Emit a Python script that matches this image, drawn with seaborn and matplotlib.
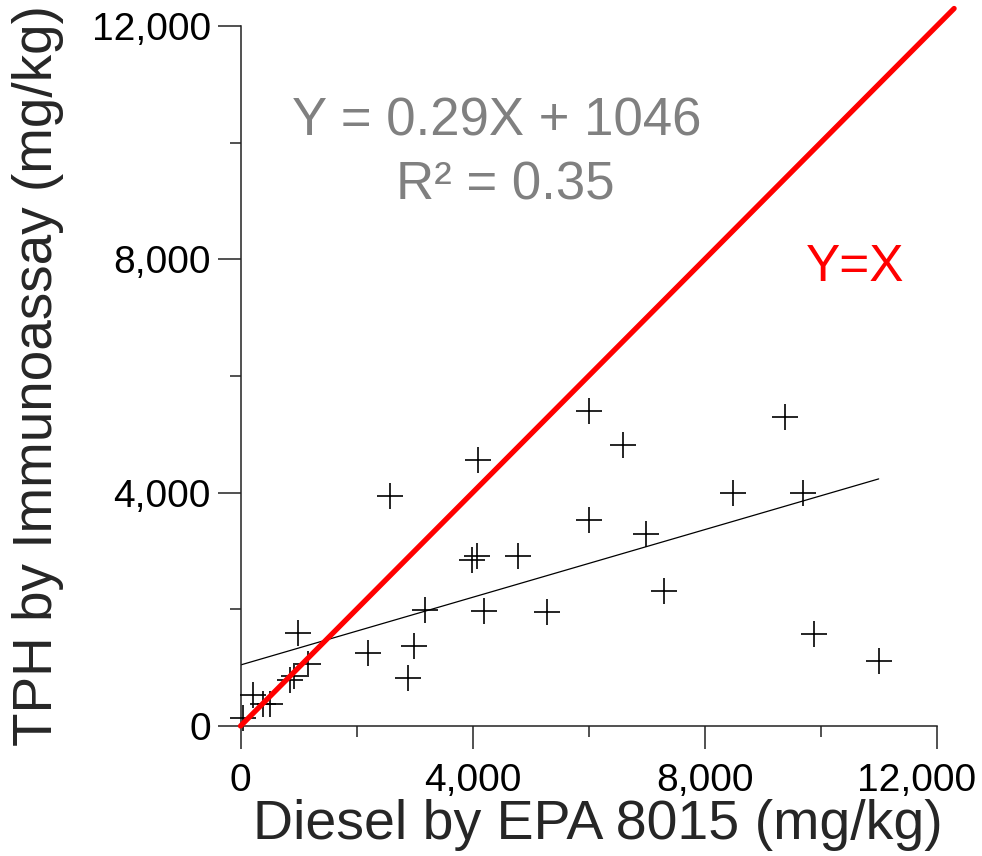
import matplotlib
matplotlib.use("Agg")
import matplotlib.pyplot as plt
import matplotlib.transforms as mtransforms
import seaborn as sns
import pandas as pd
from matplotlib.ticker import MultipleLocator, FuncFormatter

# ---- data ----
diesel_epa = [6000, 4100, 2580, 6000, 4080, 3990, 4780, 3180, 4190, 5280,
              990, 2190, 2990, 2890, 1170, 920, 850, 220, 390, 500,
              40, 6590, 9390, 8490, 9690, 6990, 7300, 9890, 11000]
tph_immuno = [5400, 4560, 3950, 3530, 2920, 2850, 2920, 1990, 1970, 1960,
              1590, 1260, 1380, 830, 1070, 850, 790, 540, 380, 380,
              130, 4820, 5300, 4000, 4000, 3300, 2320, 1580, 1110]
fit_slope = 0.29
fit_intercept = 1046
fit_x = [0, 11000]
identity_x = [0, 12300]
tick_values = [0, 4000, 8000, 12000]

df = pd.DataFrame({"x": diesel_epa, "y": tph_immuno})
fit_df = pd.DataFrame({"x": fit_x, "y": [fit_slope * v + fit_intercept for v in fit_x]})
id_df = pd.DataFrame({"x": identity_x, "y": identity_x})

sns.set_style("ticks")
plt.rcParams["font.family"] = ["Liberation Sans", "DejaVu Sans"]

fig = plt.figure(figsize=(9.82, 8.56), dpi=100)
ax = fig.add_axes([240.5 / 982, 1 - 726 / 856, (936.7 - 240.5) / 982, (726 - 26) / 856])

sns.scatterplot(data=df, x="x", y="y", marker="+", s=340, color="black",
                linewidth=1.2, ax=ax, clip_on=False, zorder=3)
sns.lineplot(data=fit_df, x="x", y="y", color="black", linewidth=0.9, ax=ax, zorder=2)
sns.lineplot(data=id_df, x="x", y="y", color="#ff0000", linewidth=3.8, ax=ax,
             clip_on=False, zorder=4)

ax.set_xlim(0, 12000)
ax.set_ylim(0, 12000)
ax.set_xticks(tick_values)
ax.set_yticks(tick_values)
ax.xaxis.set_minor_locator(MultipleLocator(2000))
ax.yaxis.set_minor_locator(MultipleLocator(2000))
fmt = FuncFormatter(lambda v, p: f"{int(v):,}")
ax.xaxis.set_major_formatter(fmt)
ax.yaxis.set_major_formatter(fmt)

spine_col = "#222222"
for s in ["left", "bottom"]:
    ax.spines[s].set_color(spine_col)
    ax.spines[s].set_linewidth(1.1)
sns.despine(ax=ax)
ax.tick_params(which="major", direction="out", length=16.5, width=1.1, color=spine_col,
               labelsize=28, labelcolor="black")
ax.tick_params(axis="x", which="major", pad=10)
ax.tick_params(axis="y", which="major", pad=5)
ax.tick_params(which="minor", direction="out", length=8, width=1.1, color=spine_col)

# shift the last x tick label left so it stays inside the figure (as in the reference)
fig.canvas.draw()
last_lab = ax.get_xticklabels()[-1]
last_lab.set_transform(last_lab.get_transform() +
                       mtransforms.ScaledTranslation(-0.2, 0, fig.dpi_scale_trans))

ax.set_xlabel("Diesel by EPA 8015 (mg/kg)", fontsize=40, labelpad=0, x=0.514)
ax.set_ylabel("TPH by Immunoassay (mg/kg)", fontsize=39.5)
ax.yaxis.set_label_coords(-0.254, 0.5)

ax.text(4422, 10355, "Y = 0.29X + 1046", fontsize=38, color="#808080",
        ha="center", va="center")
ax.text(4560, 9258, "R\u00b2 = 0.35", fontsize=38, color="#808080",
        ha="center", va="center")
ax.text(10595, 7852, "Y=X", fontsize=37, color="#ff0000", ha="center", va="center")

ax.set_facecolor("white")
fig.savefig("out.png", dpi=100, facecolor="white")
